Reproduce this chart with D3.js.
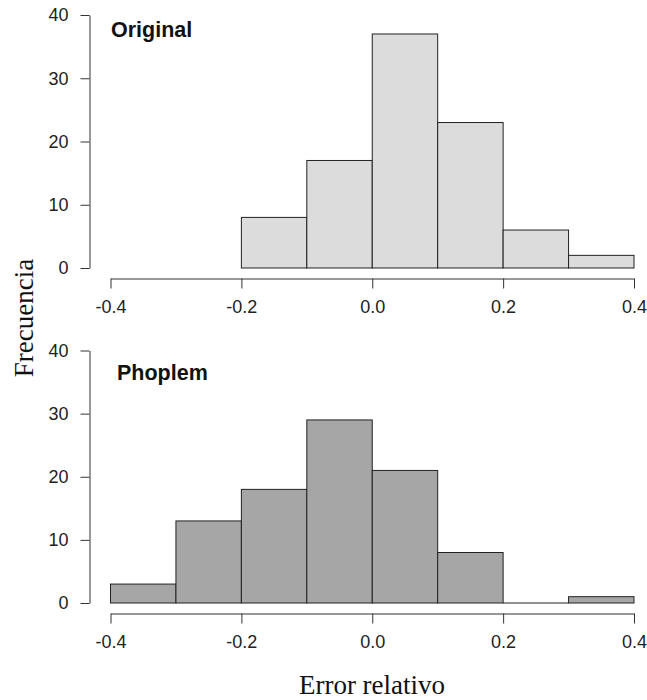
<!DOCTYPE html>
<html>
<head>
<meta charset="utf-8">
<script src="https://cdn.jsdelivr.net/npm/d3@7"></script>
<style>
  html, body { margin: 0; padding: 0; background: #fff; }
  svg { display: block; }
</style>
</head>
<body>
<svg id="chart" width="647" height="700"></svg>
<script>
// ---- Data ----
const originalBreaks = [-0.2, -0.1, 0.0, 0.1, 0.2, 0.3, 0.4];
const originalCounts = [8, 17, 37, 23, 6, 2];
const phoplemBreaks = [-0.4, -0.3, -0.2, -0.1, 0.0, 0.1, 0.2, 0.3, 0.4];
const phoplemCounts = [3, 13, 18, 29, 21, 8, 0, 1];
const panelTitles = ["Original", "Phoplem"];
const xTicks = [-0.4, -0.2, 0.0, 0.2, 0.4];
const xTickLabels = ["-0.4", "-0.2", "0.0", "0.2", "0.4"];
const yTicks = [0, 10, 20, 30, 40];
const yLabel = "Frecuencia";
const xLabel = "Error relativo";

// ---- Layout ----
const svg = d3.select("#chart");
const panels = [
  { title: panelTitles[0], breaks: originalBreaks, counts: originalCounts, fill: "#dcdcdc",
    y0: 268, y1: 15, axisY: 278.5, titleX: 111, titleY: 37 },
  { title: panelTitles[1], breaks: phoplemBreaks, counts: phoplemCounts, fill: "#a6a6a6",
    y0: 603, y1: 350.5, axisY: 613.5, titleX: 117, titleY: 380 }
];

const x = d3.scaleLinear().domain([-0.4, 0.4]).range([110.5, 634]);

panels.forEach(p => {
  const y = d3.scaleLinear().domain([0, 40]).range([p.y0, p.y1]);
  const g = svg.append("g");
  const bins = p.counts.map((c, i) => ({ x0: p.breaks[i], x1: p.breaks[i + 1], c }));

  g.selectAll("rect.bar").data(bins.filter(d => d.c > 0)).enter().append("rect")
    .attr("class", "bar")
    .attr("x", d => x(d.x0))
    .attr("width", d => x(d.x1) - x(d.x0))
    .attr("y", d => y(d.c))
    .attr("height", d => y(0) - y(d.c))
    .attr("fill", p.fill)
    .attr("stroke", "#222")
    .attr("stroke-width", 1);

  // zero-count bins are drawn as a flat line on the baseline
  g.selectAll("line.zero").data(bins.filter(d => d.c === 0)).enter().append("line")
    .attr("class", "zero")
    .attr("x1", d => x(d.x0)).attr("x2", d => x(d.x1))
    .attr("y1", y(0)).attr("y2", y(0))
    .attr("stroke", "#222").attr("stroke-width", 1);

  // y axis
  const ya = g.append("g")
    .attr("transform", "translate(89.5,0)")
    .call(d3.axisLeft(y).tickValues(yTicks).tickSize(9).tickSizeOuter(0).tickPadding(12)
      .tickFormat(d3.format("d")));
  ya.select(".domain").attr("stroke", "#333");
  ya.selectAll(".tick line").attr("stroke", "#333");
  ya.selectAll(".tick text").attr("font-family", "'Liberation Sans', Arial, sans-serif")
    .attr("font-size", 18).attr("fill", "#222");

  // x axis
  const xa = g.append("g")
    .attr("transform", `translate(0,${p.axisY})`)
    .call(d3.axisBottom(x).tickValues(xTicks).tickSize(10).tickSizeOuter(0).tickPadding(12)
      .tickFormat((d, i) => xTickLabels[i]));
  xa.select(".domain").attr("stroke", "#333");
  xa.selectAll(".tick line").attr("stroke", "#333");
  xa.selectAll(".tick text").attr("font-family", "'Liberation Sans', Arial, sans-serif")
    .attr("font-size", 18).attr("fill", "#222");

  g.append("text")
    .attr("x", p.titleX).attr("y", p.titleY)
    .attr("font-family", "'Liberation Sans', Arial, sans-serif")
    .attr("font-weight", "bold").attr("font-size", 21.5).attr("fill", "#111")
    .text(p.title);
});

svg.append("text")
  .attr("transform", "translate(33,318) rotate(-90)")
  .attr("text-anchor", "middle")
  .attr("font-family", "'Liberation Serif', 'Times New Roman', serif")
  .attr("font-size", 27).attr("fill", "#111")
  .text(yLabel);

svg.append("text")
  .attr("x", 372).attr("y", 694)
  .attr("text-anchor", "middle")
  .attr("font-family", "'Liberation Serif', 'Times New Roman', serif")
  .attr("font-size", 27).attr("fill", "#111")
  .text(xLabel);
</script>
</body>
</html>
